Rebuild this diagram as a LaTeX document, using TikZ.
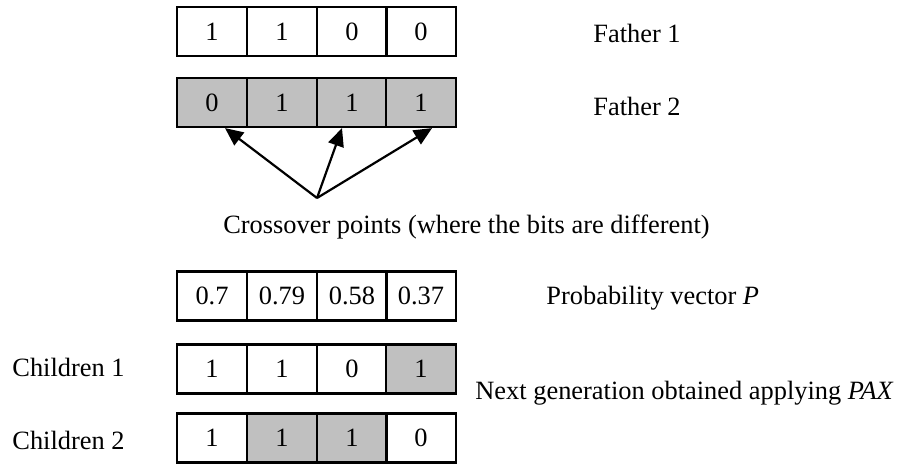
\documentclass[tikz,border=0pt]{standalone}
\usepackage{fontspec}
\setmainfont{Liberation Serif}
\usetikzlibrary{arrows.meta}
\definecolor{graycell}{RGB}{192,192,192}
\begin{document}
\begin{tikzpicture}[x=0.5pt,y=-0.5pt,
  font=\fontsize{13.2}{15}\selectfont,
  cell/.style={draw, line width=1.1pt, minimum width=35pt, minimum height=24.5pt, inner sep=0pt, anchor=center},
  shaded/.style={cell, fill=graycell},
  lbl/.style={anchor=west, inner sep=0pt},
  arr/.style={-{Triangle[length=9pt,width=8pt]}, line width=1.1pt}]
\useasboundingbox (0,0) rectangle (904,463);

% Father 1
\node[cell] (f1-1) at (212,31.5) {1};
\node[cell] (f1-2) at (282,31.5) {1};
\node[cell] (f1-3) at (352,31.5) {0};
\node[cell] (f1-4) at (421,31.5) {0};
\node[lbl] (lf1) at (593,33) {Father 1};

% Father 2
\node[shaded] (f2-1) at (212,102.5) {0};
\node[shaded] (f2-2) at (282,102.5) {1};
\node[shaded] (f2-3) at (352,102.5) {1};
\node[shaded] (f2-4) at (421,102.5) {1};
\node[lbl] (lf2) at (593,106) {Father 2};

% crossover arrows
\coordinate (cp) at (317,198);
\draw[arr] (cp) -- ([xshift=6.5pt]f2-1.south);
\draw[arr] (cp) -- ([xshift=-5pt]f2-3.south);
\draw[arr] (cp) -- ([xshift=5.5pt]f2-4.south);
\node[anchor=east, inner sep=0pt] (cross) at (710,227) {Crossover points (where the bits are different)};

% Probability vector
\node[cell] (p-1) at (212,296) {0.7};
\node[cell] (p-2) at (282,296) {0.79};
\node[cell] (p-3) at (352,296) {0.58};
\node[cell] (p-4) at (421,296) {0.37};
\node[lbl] (lp) at (546,298) {Probability vector \textit{P}};

% Children 1
\node[cell] (c1-1) at (212,369) {1};
\node[cell] (c1-2) at (282,369) {1};
\node[cell] (c1-3) at (352,369) {0};
\node[shaded] (c1-4) at (421,369) {1};
\node[lbl] (lc1) at (12,367) {Children 1};

% Children 2
\node[cell] (c2-1) at (212,438) {1};
\node[shaded] (c2-2) at (282,438) {1};
\node[shaded] (c2-3) at (352,438) {1};
\node[cell] (c2-4) at (421,438) {0};
\node[lbl] (lc2) at (12,440) {Children 2};

\node[lbl] (lnext) at (475,393) {Next generation obtained applying \textit{PAX}};
\end{tikzpicture}
\end{document}
